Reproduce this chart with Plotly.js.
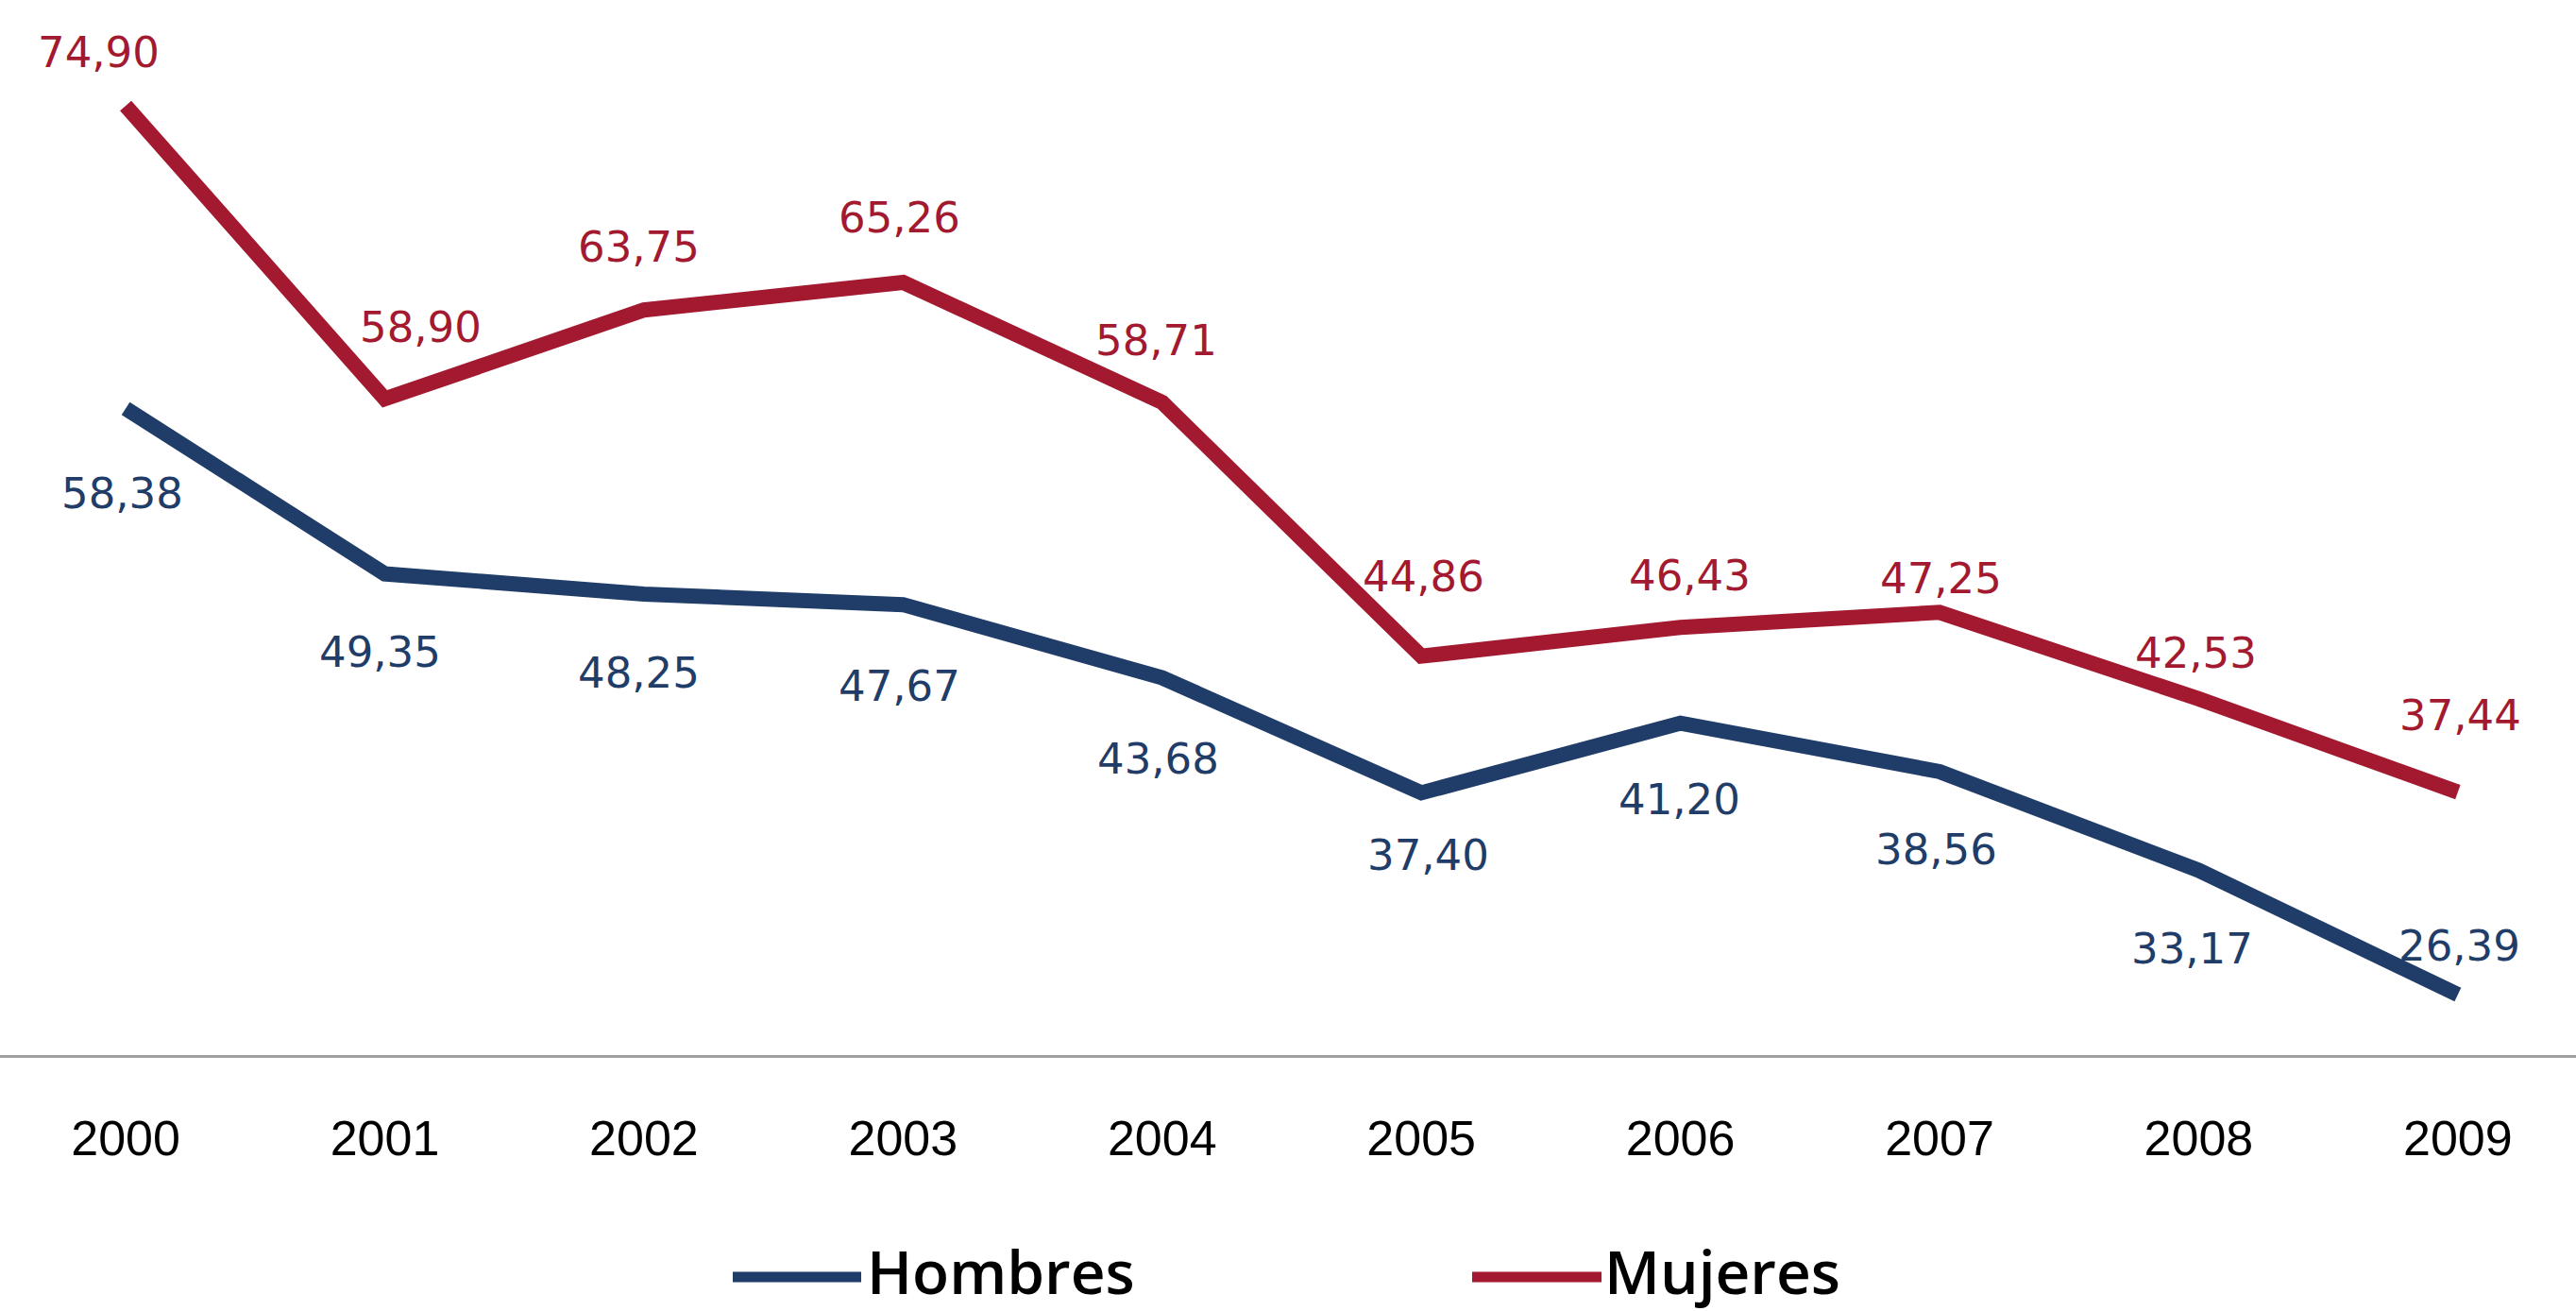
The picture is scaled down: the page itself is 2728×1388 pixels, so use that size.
<!DOCTYPE html>
<html>
<head>
<meta charset="utf-8">
<script src="https://cdn.plot.ly/plotly-3.0.1.min.js"></script>
<style>html,body{margin:0;padding:0;background:#fff;}#chart{width:2728px;height:1388px;}</style>
</head>
<body>
<div id="chart"></div>
<script>
// ---- data ----
const years = [2000, 2001, 2002, 2003, 2004, 2005, 2006, 2007, 2008, 2009];
const tickLabels = ["2000", "2001", "2002", "2003", "2004", "2005", "2006", "2007", "2008", "2009"];
const hombres = [58.38, 49.35, 48.25, 47.67, 43.68, 37.40, 41.20, 38.56, 33.17, 26.39];
const mujeres = [74.90, 58.90, 63.75, 65.26, 58.71, 44.86, 46.43, 47.25, 42.53, 37.44];
const seriesNames = ["Hombres", "Mujeres"];

// ---- styling ----
const BLUE = "#1f3d68";
const RED = "#a3192f";
const W = 2728, H = 1388, PLOT_BOTTOM = 1117;
// label offsets (px) relative to each point
const redShiftX = [-29, 38, -5, -4, -6, 2, 10, 1, -3, 3];
const redShiftY = [56, 76, 67, 68, 66, 84, 55, 36, 48, 81];
const blueShiftX = [-4, -5, -5, -4, -4, 7, -1, -4, -7, 2];
const blueShiftY = [-90, -83, -84, -86, -86, -66, -81, -83, -83, 51];

const fmt = v => v.toFixed(2).replace('.', ',');

const traces = [
  {x: years, y: hombres, name: seriesNames[0], mode: 'lines', type: 'scatter',
   line: {color: BLUE, width: 16}, hoverinfo: 'skip'},
  {x: years, y: mujeres, name: seriesNames[1], mode: 'lines', type: 'scatter',
   line: {color: RED, width: 16}, hoverinfo: 'skip'}
];

const annotations = [];
const labelFont = c => ({family: '"DejaVu Sans", sans-serif', size: 45, color: c});
years.forEach((yr, i) => {
  annotations.push({x: yr, y: mujeres[i], xref: 'x', yref: 'y', text: fmt(mujeres[i]),
    showarrow: false, xshift: redShiftX[i], yshift: redShiftY[i], font: labelFont(RED),
    xanchor: 'center', yanchor: 'middle'});
  annotations.push({x: yr, y: hombres[i], xref: 'x', yref: 'y', text: fmt(hombres[i]),
    showarrow: false, xshift: blueShiftX[i], yshift: blueShiftY[i], font: labelFont(BLUE),
    xanchor: 'center', yanchor: 'middle'});
});

// custom legend
const py = px => -(px - PLOT_BOTTOM) / PLOT_BOTTOM;
const legendLineY = 1352;
const legendTextY = 1345;
const shapes = [
  {type: 'line', xref: 'paper', yref: 'paper', x0: 776 / W, x1: 912 / W, y0: py(legendLineY), y1: py(legendLineY),
   line: {color: BLUE, width: 11}},
  {type: 'line', xref: 'paper', yref: 'paper', x0: 1559 / W, x1: 1696 / W, y0: py(legendLineY), y1: py(legendLineY),
   line: {color: RED, width: 11}}
];
const legFont = {family: '"Open Sans", sans-serif', size: 64, color: '#000', weight: 600};
annotations.push({xref: 'paper', yref: 'paper', x: 916 / W, y: py(legendTextY), text: seriesNames[0],
  showarrow: false, xanchor: 'left', yanchor: 'middle', font: legFont});
annotations.push({xref: 'paper', yref: 'paper', x: 1697 / W, y: py(legendTextY), text: seriesNames[1],
  showarrow: false, xanchor: 'left', yanchor: 'middle', font: legFont});

const layout = {
  width: W, height: H,
  margin: {l: 0, r: 0, t: 0, b: H - PLOT_BOTTOM, pad: 0},
  paper_bgcolor: '#fff', plot_bgcolor: '#fff',
  showlegend: false,
  xaxis: {
    range: [1999.515, 2009.456], tickvals: years, ticktext: tickLabels,
    showgrid: false, zeroline: false, showline: true, linecolor: '#a0a0a0', linewidth: 3,
    ticks: 'outside', ticklen: 41, tickcolor: 'rgba(0,0,0,0)',
    tickfont: {family: '"Liberation Sans", Arial, sans-serif', size: 52, color: '#000'}
  },
  yaxis: {
    range: [23.09, 80.67], showgrid: false, zeroline: false, showline: false,
    showticklabels: false, ticks: ''
  },
  annotations: annotations,
  shapes: shapes
};

Plotly.newPlot('chart', traces, layout, {staticPlot: true, displayModeBar: false});
</script>
</body>
</html>
